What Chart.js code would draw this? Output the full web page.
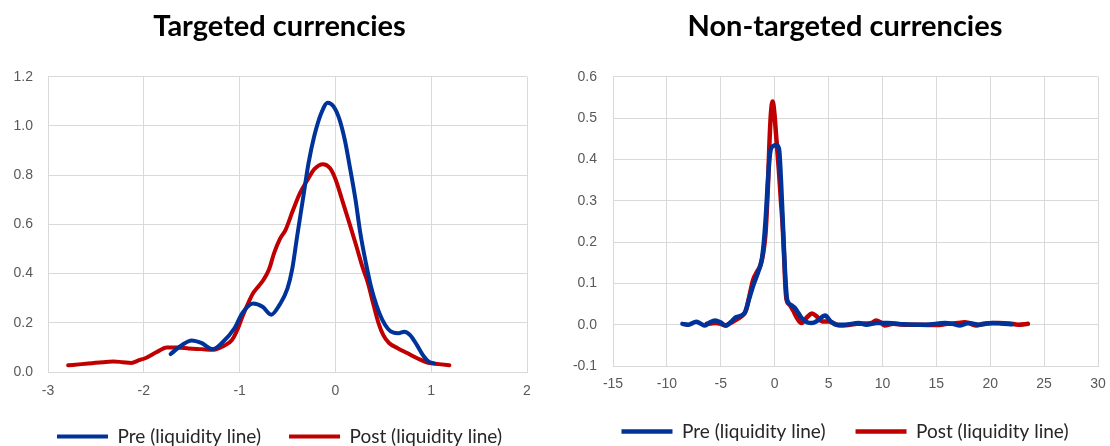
<!DOCTYPE html>
<html>
<head>
<meta charset="utf-8">
<script src="https://cdn.jsdelivr.net/npm/chart.js@4"></script>
<style>
html, body { margin: 0; padding: 0; background: #fff; overflow: hidden; }
.box { position: absolute; top: 0; height: 446px; }
#left { left: 0; width: 555px; }
#right { left: 560px; width: 550px; }
</style>
</head>
<body>
<div class="box" id="left"><canvas id="chartLeft"></canvas></div>
<div class="box" id="right"><canvas id="chartRight"></canvas></div>
<script>
// Series names
let seriesNames = ["Pre (liquidity line)", "Post (liquidity line)"];

// Targeted currencies - pre
let tPreX = [-1.72, -1.60, -1.50, -1.40, -1.28, -1.18, -1.05, -0.97, -0.86, -0.76, -0.67, -0.58, -0.50, -0.45, -0.40, -0.34, -0.28, -0.22, -0.15, -0.08, -0.02, 0.04, 0.10, 0.15, 0.21, 0.26, 0.32, 0.37, 0.43, 0.49, 0.55, 0.60, 0.66, 0.72, 0.78, 0.85, 0.92, 0.97, 1.03];
let tPreY = [0.073, 0.11, 0.128, 0.118, 0.093, 0.12, 0.18, 0.24, 0.278, 0.265, 0.233, 0.275, 0.34, 0.42, 0.55, 0.70, 0.85, 0.96, 1.05, 1.095, 1.08, 1.03, 0.94, 0.835, 0.70, 0.565, 0.44, 0.35, 0.27, 0.212, 0.175, 0.161, 0.158, 0.164, 0.15, 0.11, 0.065, 0.043, 0.035];

// Targeted currencies - post
let tPostX = [-2.79, -2.65, -2.54, -2.43, -2.32, -2.22, -2.13, -2.05, -1.98, -1.87, -1.76, -1.65, -1.53, -1.40, -1.27, -1.17, -1.08, -1.02, -0.97, -0.91, -0.86, -0.80, -0.75, -0.69, -0.64, -0.58, -0.52, -0.45, -0.37, -0.30, -0.22, -0.13, -0.06, 0.00, 0.07, 0.15, 0.22, 0.28, 0.34, 0.40, 0.45, 0.50, 0.56, 0.65, 0.75, 0.86, 0.97, 1.08, 1.19];
let tPostY = [0.027, 0.032, 0.036, 0.040, 0.043, 0.040, 0.037, 0.048, 0.057, 0.080, 0.100, 0.100, 0.096, 0.093, 0.090, 0.105, 0.130, 0.175, 0.226, 0.280, 0.320, 0.350, 0.375, 0.420, 0.483, 0.540, 0.578, 0.650, 0.727, 0.775, 0.825, 0.845, 0.830, 0.785, 0.700, 0.600, 0.510, 0.430, 0.361, 0.270, 0.199, 0.150, 0.118, 0.097, 0.077, 0.055, 0.037, 0.032, 0.027];

// Non-targeted currencies - pre
let nPreX = [-8.56, -8.0, -7.28, -6.9, -6.47, -6.0, -5.51, -5.0, -4.55, -4.0, -3.59, -2.79, -2.4, -1.99, -1.5, -1.19, -1.0, -0.8, -0.6, -0.4, -0.15, 0.15, 0.4, 0.6, 0.8, 1.0, 1.15, 1.5, 1.86, 2.2, 2.5, 3.0, 3.46, 4.0, 4.68, 5.2, 5.7, 6.5, 7.8, 8.5, 9.5, 10.5, 12, 14, 15.8, 16.5, 17.2, 18, 19, 20.2, 21, 22];
let nPreY = [0.002, 0.0, 0.007, 0.003, -0.002, 0.006, 0.010, 0.005, -0.002, 0.008, 0.018, 0.028, 0.060, 0.095, 0.130, 0.158, 0.200, 0.270, 0.360, 0.420, 0.432, 0.435, 0.425, 0.340, 0.220, 0.110, 0.061, 0.048, 0.041, 0.028, 0.016, 0.006, 0.004, 0.010, 0.022, 0.008, 0.0, 0.0, 0.004, 0.0, 0.004, 0.004, 0.001, 0.0, 0.004, 0.002, -0.002, 0.004, 0.0, 0.004, 0.003, 0.001];

// Non-targeted currencies - post
let nPostX = [-6.31, -5.9, -5.51, -5.0, -4.55, -4.1, -3.59, -3.2, -2.79, -2.6, -2.3, -1.99, -1.6, -1.36, -1.06, -0.85, -0.74, -0.6, -0.5, -0.35, -0.19, -0.02, 0.1, 0.25, 0.4, 0.58, 0.74, 0.9, 1.0, 1.11, 1.4, 1.7, 2.1, 2.5, 3.0, 3.46, 3.9, 4.42, 5.06, 5.5, 6.03, 7.0, 7.6, 8.5, 9.0, 9.4, 9.8, 10.2, 11.0, 12.0, 13.5, 15.0, 16.0, 17.0, 17.6, 18.2, 18.7, 19.5, 20.8, 21.8, 22.6, 23.5];
let nPostY = [0.002, 0.003, 0.004, 0.002, -0.002, 0.004, 0.012, 0.018, 0.028, 0.040, 0.075, 0.109, 0.130, 0.141, 0.174, 0.220, 0.270, 0.350, 0.430, 0.510, 0.540, 0.510, 0.470, 0.420, 0.370, 0.300, 0.240, 0.150, 0.090, 0.060, 0.048, 0.035, 0.015, 0.004, 0.018, 0.027, 0.020, 0.008, 0.008, 0.003, -0.002, 0.0, 0.002, 0.003, 0.004, 0.010, 0.006, -0.002, 0.002, 0.0, 0.0, -0.001, 0.002, 0.004, 0.006, 0.002, -0.002, 0.003, 0.004, 0.003, 0.0, 0.002];

// Tick values
let tXTicks = [-3, -2, -1, 0, 1, 2];
let tYTicks = [0, 0.2, 0.4, 0.6, 0.8, 1.0, 1.2];
let nXTicks = [-15, -10, -5, 0, 5, 10, 15, 20, 25, 30];
let nYTicks = [-0.1, 0, 0.1, 0.2, 0.3, 0.4, 0.5, 0.6];

let blue = "#003399";
let red = "#c00000";
let gridColor = "#d9d9d9";

// Pair up x and y arrays for Chart.js
function toPoints(xs, ys) {
    return xs.map((x, i) => ({ x: x, y: ys[i] }));
}

function makeDataset(label, xs, ys, color, width) {
    return {
        label: label,
        data: toPoints(xs, ys),
        borderColor: color,
        backgroundColor: color,
        borderWidth: width,
        borderCapStyle: "round",
        borderJoinStyle: "round",
        pointRadius: 0,
        cubicInterpolationMode: "monotone",
        fill: false,
    };
}

function makeChart(canvasId, c) {
    new Chart(document.getElementById(canvasId), {
        type: "line",
        data: {
            datasets: [
                makeDataset(seriesNames[0], c.preX, c.preY, blue, c.lineWidth),
                makeDataset(seriesNames[1], c.postX, c.postY, red, c.lineWidth),
            ],
        },
        options: {
            responsive: true,
            maintainAspectRatio: false,
            animation: false,
            layout: { padding: { left: c.padLeft, right: c.padRight, top: 0, bottom: c.padBottom } },
            plugins: {
                title: {
                    display: true,
                    text: c.title,
                    color: "#000",
                    font: { family: "Lato", size: 29, weight: "bold" },
                    padding: { top: 9, bottom: 33 },
                },
                legend: {
                    position: "bottom",
                    labels: {
                        usePointStyle: true,
                        pointStyle: "line",
                        pointStyleWidth: 51,
                        boxHeight: 4,
                        color: "#262626",
                        font: { family: "Lato", size: 19 },
                        padding: c.legendPad,
                    },
                },
                tooltip: { enabled: false },
            },
            scales: {
                x: {
                    type: "linear",
                    min: c.xTicks[0],
                    max: c.xTicks[c.xTicks.length - 1],
                    grid: { color: gridColor, drawTicks: false },
                    border: { color: gridColor },
                    ticks: {
                        color: "#595959",
                        font: { family: "Liberation Sans", size: 14 },
                        padding: c.xPad,
                        callback: (v) => String(v),
                    },
                    afterBuildTicks: (s) => { s.ticks = c.xTicks.map((v) => ({ value: v })); },
                    afterFit: (s) => {
                        s.height = c.xPad + 16;
                        s.paddingLeft = 4;
                        s.paddingRight = 4;
                    },
                },
                y: {
                    type: "linear",
                    min: c.yTicks[0],
                    max: c.yTicks[c.yTicks.length - 1],
                    grid: { color: gridColor, drawTicks: false },
                    border: { color: gridColor },
                    ticks: {
                        color: "#595959",
                        font: { family: "Liberation Sans", size: 14 },
                        padding: c.yPad,
                        callback: (v) => Number(v).toFixed(1),
                    },
                    afterBuildTicks: (s) => { s.ticks = c.yTicks.map((v) => ({ value: v })); },
                    afterFit: (s) => { s.width = c.yWidth; },
                },
                // empty axis on the right, only to leave the gap after the plot
                gap: {
                    type: "linear",
                    position: "right",
                    grid: { display: false },
                    border: { display: false },
                    ticks: { display: false },
                    afterFit: (s) => { s.width = c.rightGap; },
                },
            },
        },
    });
}

makeChart("chartLeft", {
    title: "Targeted currencies",
    preX: tPreX, preY: tPreY, postX: tPostX, postY: tPostY,
    xTicks: tXTicks, yTicks: tYTicks,
    lineWidth: 4,
    padLeft: 0, padRight: -4, yWidth: 48, rightGap: 32, yPad: 15, xPad: 11,
    legendPad: 28, padBottom: -10,
});

makeChart("chartRight", {
    title: "Non-targeted currencies",
    preX: nPreX, preY: nPreY, postX: nPostX, postY: nPostY,
    xTicks: nXTicks, yTicks: nYTicks,
    lineWidth: 4.5,
    padLeft: 8, padRight: -12, yWidth: 45, rightGap: 24, yPad: 16, xPad: 10,
    legendPad: 30, padBottom: -5,
});
</script>
</body>
</html>
